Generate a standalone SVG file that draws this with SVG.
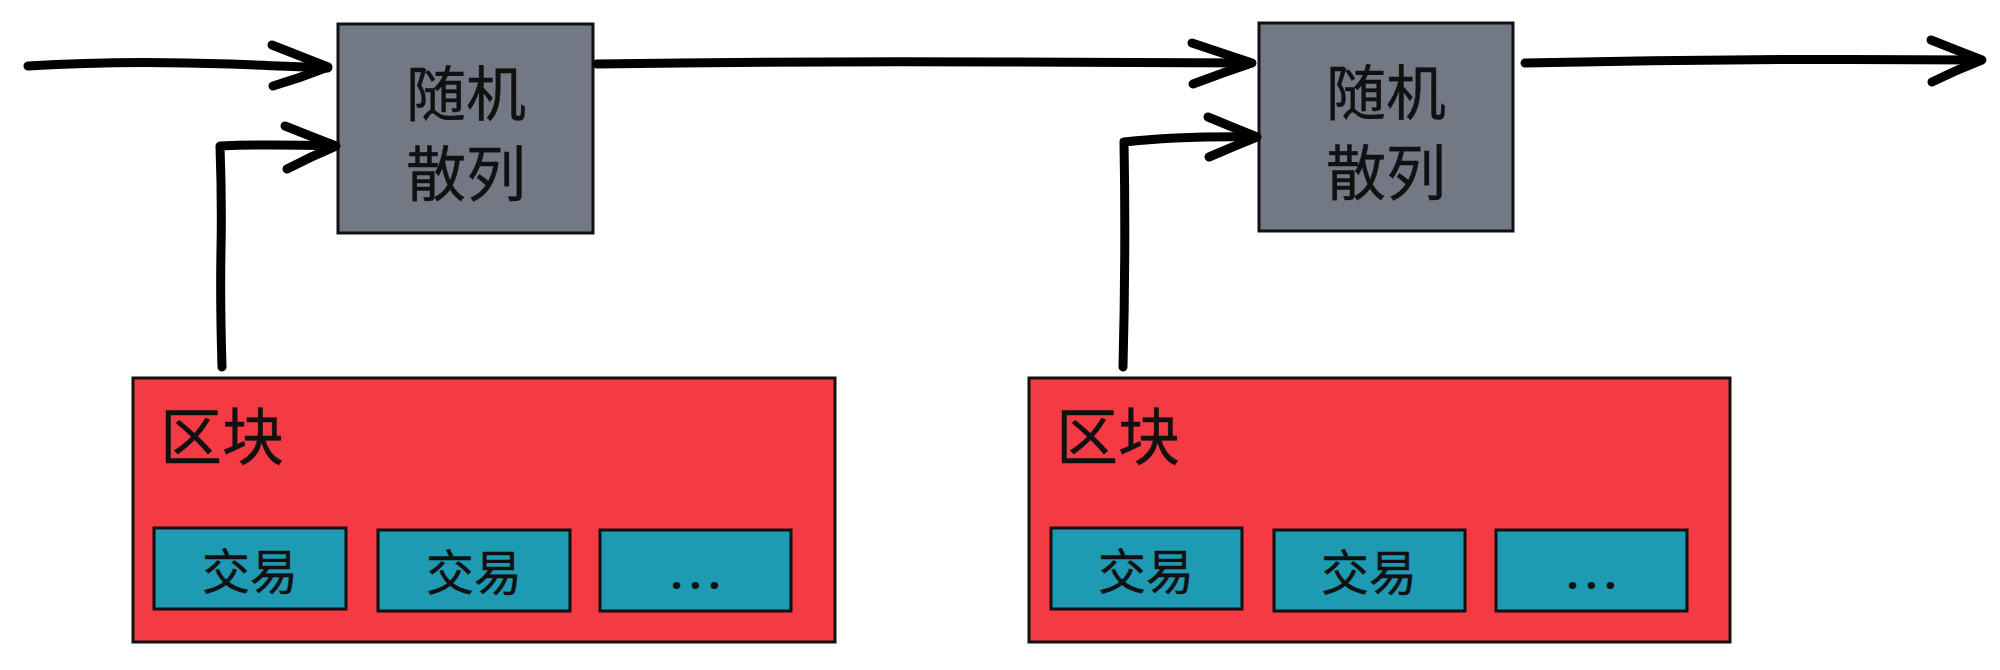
<svg xmlns="http://www.w3.org/2000/svg" width="2000" height="670" viewBox="0 0 2000 670">
<style>
.hash{fill:#737984;stroke:#111;stroke-width:3}
.block{fill:#f43a43;stroke:#111;stroke-width:3}
.tx{fill:#1e9bb3;stroke:#111;stroke-width:3}
.t{font-family:"Noto Sans CJK SC","Noto Sans",sans-serif;fill:#111;stroke:#111;stroke-width:0.4;text-anchor:middle}
.bt{font-family:"Noto Sans CJK SC","Noto Sans",sans-serif;fill:#111;stroke:#111;stroke-width:0.4}
.dots{font-family:"Noto Sans","DejaVu Sans",sans-serif;font-weight:bold;fill:#111;text-anchor:middle;letter-spacing:7px}
.c{fill:none;stroke:#000;stroke-width:9;stroke-linecap:round;stroke-linejoin:round}
</style>
<rect width="2000" height="670" fill="#fff"/>
<g id="hash1">
<rect class="hash" x="338" y="24" width="255" height="209"/>
<text class="t" x="466" y="116" font-size="60">随机</text>
<text class="t" x="466" y="196" font-size="60">散列</text>
</g>
<g id="hash2">
<rect class="hash" x="1259" y="23" width="254" height="208"/>
<text class="t" x="1386" y="115" font-size="60">随机</text>
<text class="t" x="1386" y="195" font-size="60">散列</text>
</g>
<g id="block1">
<rect class="block" x="133" y="378" width="702" height="264"/>
<text class="bt" x="160" y="460" font-size="62">区块</text>
<g id="tx1a"><rect class="tx" x="154" y="528" width="192" height="81"/><text class="t" x="250" y="589" font-size="48">交易</text></g>
<g id="tx1b"><rect class="tx" x="378" y="530" width="192" height="81"/><text class="t" x="474" y="590" font-size="48">交易</text></g>
<g id="tx1c"><rect class="tx" x="600" y="530" width="191" height="81"/><text class="dots" x="699" y="589" font-size="42">...</text></g>
</g>
<g id="block2">
<rect class="block" x="1029" y="378" width="701" height="264"/>
<text class="bt" x="1056" y="460" font-size="62">区块</text>
<g id="tx2a"><rect class="tx" x="1051" y="528" width="191" height="81"/><text class="t" x="1146" y="589" font-size="48">交易</text></g>
<g id="tx2b"><rect class="tx" x="1274" y="530" width="191" height="81"/><text class="t" x="1369" y="590" font-size="48">交易</text></g>
<g id="tx2c"><rect class="tx" x="1496" y="530" width="191" height="81"/><text class="dots" x="1595" y="589" font-size="42">...</text></g>
</g>
<g id="connectors">
<path class="c" d="M28 66 Q120 60 230 64 T326 68"/>
<path class="c" d="M272 45 Q300 56 328 67 Q300 78 273 86"/>
<path class="c" d="M222 367 Q220 300 221 250 T220 146 Q270 144 334 146"/>
<path class="c" d="M285 126 Q310 136 336 146 Q310 157 287 169"/>
<path class="c" d="M597 64 Q800 61 1000 62 T1250 63"/>
<path class="c" d="M1192 43 Q1222 53 1252 63 Q1222 73 1193 84"/>
<path class="c" d="M1123 367 Q1126 250 1124 142 Q1180 136 1255 137"/>
<path class="c" d="M1208 117 Q1232 127 1257 137 Q1232 147 1209 157"/>
<path class="c" d="M1525 63 Q1750 58 1980 60"/>
<path class="c" d="M1931 40 Q1956 50 1982 60 Q1956 70 1932 82"/>
</g>
</svg>
